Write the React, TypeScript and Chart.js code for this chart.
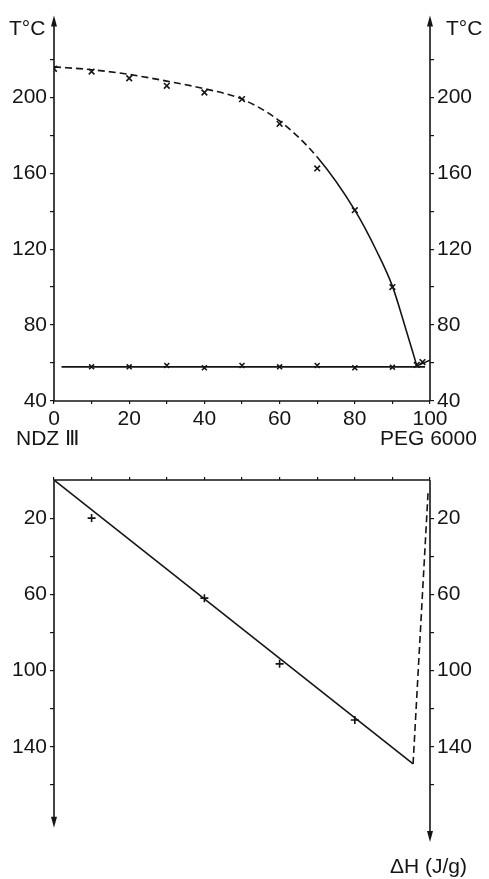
import React, { useEffect, useRef } from "react";
import { Chart, registerables } from "chart.js";
Chart.register(...registerables);

const INK = "#151515";
const FONT = "'Liberation Sans', Arial, sans-serif";

// ---- Upper panel: phase diagram (T °C vs composition) ----
const liquidusCurveX = [0, 10, 20, 30, 40, 50, 60, 70, 80, 85.8, 90, 93.4, 96.5];
const liquidusCurveT = [216, 214.5, 212, 208.5, 204.5, 199, 187.5, 168.5, 140.5, 119, 100.5, 79, 58.5];
const pegBranchX = [96.5, 100];
const pegBranchT = [58.5, 61.5];
const liquidusMarksX = [0, 10, 20, 30, 40, 50, 60, 70, 80, 90, 96.5, 98];
const liquidusMarksT = [215, 213.5, 210, 206, 202.5, 199, 186, 162.5, 140.5, 100, 59, 60.5];
const eutecticLineX = [2, 98.7];
const eutecticLineT = [58, 58];
const eutecticMarksX = [10, 20, 30, 40, 50, 60, 70, 80, 90];
const eutecticMarksT = [58, 58, 58.7, 57.5, 58.7, 58, 58.7, 57.5, 57.8];
const tTicks = [40, 60, 80, 100, 120, 140, 160, 180, 200, 220];
const tLabels = [40, 80, 120, 160, 200];
const compTicks = [0, 10, 20, 30, 40, 50, 60, 70, 80, 90, 100];
const compLabels = [0, 20, 40, 60, 80, 100];

// ---- Lower panel: enthalpy (ΔH J/g) ----
const enthalpyLineX = [0, 95.5, 99.5];
const enthalpyLineH = [0, 149, 6];
const enthalpyMarksX = [10, 40, 60, 80];
const enthalpyMarksH = [20, 62, 96.5, 126];
const hTicks = [20, 40, 60, 80, 100, 120, 140, 160];
const hLabels = [20, 60, 100, 140];

const pts = (xs: number[], ys: number[]) => xs.map((x, i) => ({ x, y: ys[i] }));

function arrow(ctx: CanvasRenderingContext2D, x: number, y: number, dir: number) {
  ctx.beginPath();
  ctx.moveTo(x, y);
  ctx.lineTo(x - 3, y - dir * 11);
  ctx.lineTo(x + 3, y - dir * 11);
  ctx.closePath();
  ctx.fill();
}

const framePlugin = {
  id: "frame",
  afterDatasetsDraw(chart: any, _args: any, opts: any) {
    const ctx = chart.ctx as CanvasRenderingContext2D;
    const { left, right, top, bottom } = chart.chartArea;
    const y = chart.scales.y;
    ctx.save();
    ctx.strokeStyle = INK;
    ctx.fillStyle = INK;
    ctx.lineWidth = 1.6;
    if (opts.mode === "top") {
      const yTop = y.getPixelForValue(opts.arrowAt);
      ctx.beginPath();
      ctx.moveTo(left, bottom); ctx.lineTo(left, yTop + 4);
      ctx.moveTo(right, bottom); ctx.lineTo(right, yTop + 4);
      ctx.moveTo(left, bottom); ctx.lineTo(right, bottom);
      ctx.stroke();
      arrow(ctx, left, yTop, -1);
      arrow(ctx, right, yTop, -1);
    } else {
      const yl = y.getPixelForValue(opts.leftArrowAt);
      const yr = y.getPixelForValue(opts.rightArrowAt);
      ctx.beginPath();
      ctx.moveTo(left, top); ctx.lineTo(right, top);
      ctx.moveTo(left, top); ctx.lineTo(left, yl - 4);
      ctx.moveTo(right, top); ctx.lineTo(right, yr - 4);
      ctx.stroke();
      arrow(ctx, left, yl, 1);
      arrow(ctx, right, yr, 1);
    }
    ctx.font = `21px ${FONT}`;
    ctx.textBaseline = "middle";
    ctx.textAlign = "left";
    for (const t of opts.texts || []) ctx.fillText(t.s, t.x, t.y);
    ctx.restore();
  },
};

const tickFont = { family: FONT, size: 21 };

function TopChart() {
  const ref = useRef<HTMLCanvasElement>(null);
  useEffect(() => {
    const chart = new Chart(ref.current!, {
      type: "scatter",
      data: {
        datasets: [
          {
            data: pts(liquidusCurveX, liquidusCurveT),
            showLine: true,
            borderColor: INK,
            borderWidth: 1.6,
            pointRadius: 0,
            cubicInterpolationMode: "monotone",
            segment: { borderDash: (c: any) => (c.p0.parsed.x < 70 ? [7, 4] : undefined) },
          } as any,
          {
            data: pts(pegBranchX, pegBranchT),
            showLine: true,
            borderColor: INK,
            borderWidth: 1.6,
            pointRadius: 0,
          },
          {
            data: pts(eutecticLineX, eutecticLineT),
            showLine: true,
            borderColor: INK,
            borderWidth: 1.6,
            pointRadius: 0,
          },
          {
            data: pts(liquidusMarksX, liquidusMarksT),
            showLine: false,
            pointStyle: "crossRot",
            pointRadius: 4,
            borderColor: INK,
            borderWidth: 1.6,
          },
          {
            data: pts(eutecticMarksX, eutecticMarksT),
            showLine: false,
            pointStyle: "crossRot",
            pointRadius: 3.5,
            borderColor: INK,
            borderWidth: 1.6,
          },
        ],
      },
      options: {
        responsive: false,
        devicePixelRatio: 1,
        animation: false,
        layout: { padding: { top: 15, left: 0, right: 0, bottom: 0 } },
        plugins: {
          legend: { display: false },
          tooltip: { enabled: false },
          frame: {
            mode: "top",
            arrowAt: 243,
            texts: [
              { s: "T°C", x: 9, y: 29 },
              { s: "T°C", x: 446, y: 29 },
              { s: "NDZ Ⅲ", x: 16, y: 439 },
              { s: "PEG 6000", x: 380, y: 439 },
            ],
          },
        } as any,
        scales: {
          x: {
            type: "linear",
            min: 0,
            max: 100,
            afterBuildTicks: (s: any) => { s.ticks = compTicks.map((v) => ({ value: v })); },
            afterFit: (s: any) => { s.height = 49; },
            border: { display: false },
            grid: { drawOnChartArea: false, tickLength: 3, color: INK, lineWidth: 1.2 },
            ticks: {
              color: INK,
              font: tickFont,
              padding: 3,
              maxRotation: 0,
              autoSkip: false,
              callback: (v: any) => (compLabels.includes(v) ? String(v) : ""),
            },
          },
          y: {
            type: "linear",
            position: "left",
            min: 40,
            max: 243,
            afterBuildTicks: (s: any) => { s.ticks = tTicks.map((v) => ({ value: v })); },
            afterFit: (s: any) => { s.width = 54; },
            border: { display: false },
            grid: { drawOnChartArea: false, tickLength: 4, color: INK, lineWidth: 1.2 },
            ticks: {
              color: INK,
              font: tickFont,
              padding: 3,
              autoSkip: false,
              callback: (v: any) => (tLabels.includes(v) ? String(v) : ""),
            },
          },
          y2: {
            type: "linear",
            position: "right",
            min: 40,
            max: 243,
            afterBuildTicks: (s: any) => { s.ticks = tTicks.map((v) => ({ value: v })); },
            afterFit: (s: any) => { s.width = 59; },
            border: { display: false },
            grid: { drawOnChartArea: false, tickLength: 4, color: INK, lineWidth: 1.2 },
            ticks: {
              color: INK,
              font: tickFont,
              padding: 3,
              autoSkip: false,
              callback: (v: any) => (tLabels.includes(v) ? String(v) : ""),
            },
          },
        },
      } as any,
      plugins: [framePlugin as any],
    });
    return () => chart.destroy();
  }, []);
  return <canvas ref={ref} width={489} height={450} style={{ position: "absolute", left: 0, top: 0 }} />;
}

function BottomChart() {
  const ref = useRef<HTMLCanvasElement>(null);
  useEffect(() => {
    const chart = new Chart(ref.current!, {
      type: "scatter",
      data: {
        datasets: [
          {
            data: pts(enthalpyLineX, enthalpyLineH),
            showLine: true,
            borderColor: INK,
            borderWidth: 1.6,
            pointRadius: 0,
            tension: 0,
            segment: { borderDash: (c: any) => (c.p0.parsed.x >= 95 ? [7, 4] : undefined) },
          } as any,
          {
            data: pts(enthalpyMarksX, enthalpyMarksH),
            showLine: false,
            pointStyle: "cross",
            pointRadius: 4,
            borderColor: INK,
            borderWidth: 1.6,
          },
        ],
      },
      options: {
        responsive: false,
        devicePixelRatio: 1,
        animation: false,
        layout: { padding: { top: 0, left: 0, right: 0, bottom: 37 } },
        plugins: {
          legend: { display: false },
          tooltip: { enabled: false },
          frame: {
            mode: "bottom",
            leftArrowAt: 182.5,
            rightArrowAt: 190,
            texts: [{ s: "ΔH (J/g)", x: 390, y: 417 }],
          },
        } as any,
        scales: {
          x: {
            type: "linear",
            position: "top",
            min: 0,
            max: 100,
            afterBuildTicks: (s: any) => { s.ticks = compTicks.map((v) => ({ value: v })); },
            afterFit: (s: any) => { s.height = 30; },
            border: { display: false },
            grid: { drawOnChartArea: false, tickLength: 3, color: INK, lineWidth: 1.2 },
            ticks: { display: false },
          },
          y: {
            type: "linear",
            position: "left",
            reverse: true,
            min: 0,
            max: 190,
            afterBuildTicks: (s: any) => { s.ticks = hTicks.map((v) => ({ value: v })); },
            afterFit: (s: any) => { s.width = 54; },
            border: { display: false },
            grid: { drawOnChartArea: false, tickLength: 4, color: INK, lineWidth: 1.2 },
            ticks: {
              color: INK,
              font: tickFont,
              padding: 3,
              autoSkip: false,
              callback: (v: any) => (hLabels.includes(v) ? String(v) : ""),
            },
          },
          y2: {
            type: "linear",
            position: "right",
            reverse: true,
            min: 0,
            max: 190,
            afterBuildTicks: (s: any) => { s.ticks = hTicks.map((v) => ({ value: v })); },
            afterFit: (s: any) => { s.width = 59; },
            border: { display: false },
            grid: { drawOnChartArea: false, tickLength: 4, color: INK, lineWidth: 1.2 },
            ticks: {
              color: INK,
              font: tickFont,
              padding: 3,
              autoSkip: false,
              callback: (v: any) => (hLabels.includes(v) ? String(v) : ""),
            },
          },
        },
      } as any,
      plugins: [framePlugin as any],
    });
    return () => chart.destroy();
  }, []);
  return <canvas ref={ref} width={489} height={429} style={{ position: "absolute", left: 0, top: 450 }} />;
}

export default function App() {
  return (
    <div style={{ position: "fixed", left: 0, top: 0, width: 489, height: 879, background: "#fff", overflow: "hidden" }}>
      <TopChart />
      <BottomChart />
    </div>
  );
}
